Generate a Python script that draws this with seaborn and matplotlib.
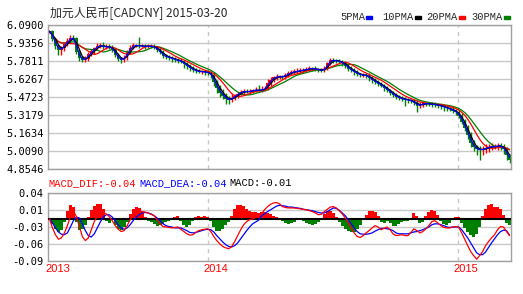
import numpy as np
import pandas as pd
import matplotlib
matplotlib.use("Agg")
import matplotlib.pyplot as plt
import matplotlib.transforms as mtransforms
import seaborn as sns

# ---------------- data ----------------
STEP = 3  # trading days represented by each reading
close = [6.035, 5.97, 5.91, 5.876, 5.89, 5.925, 5.955, 5.98, 5.975, 5.86,
         5.81, 5.79, 5.80, 5.84, 5.865, 5.89, 5.91, 5.915, 5.90, 5.905,
         5.90, 5.88, 5.835, 5.80, 5.79, 5.81, 5.86, 5.895, 5.915, 5.915,
         5.91, 5.91, 5.905, 5.91, 5.905, 5.90, 5.875, 5.855, 5.825, 5.815,
         5.81, 5.80, 5.79, 5.785, 5.775, 5.755, 5.735, 5.72, 5.704, 5.695,
         5.69, 5.69, 5.685, 5.68, 5.66, 5.60, 5.55, 5.51, 5.485, 5.455,
         5.447, 5.465, 5.48, 5.50, 5.515, 5.52, 5.518, 5.52, 5.53, 5.532,
         5.53, 5.535, 5.545, 5.59, 5.62, 5.64, 5.645, 5.647, 5.645, 5.66,
         5.676, 5.685, 5.69, 5.695, 5.70, 5.704, 5.71, 5.718, 5.715, 5.71,
         5.704, 5.70, 5.715, 5.76, 5.79, 5.785, 5.782, 5.776, 5.76, 5.74,
         5.715, 5.70, 5.685, 5.67, 5.66, 5.66, 5.655, 5.635, 5.615, 5.60,
         5.585, 5.57, 5.55, 5.532, 5.51, 5.49, 5.475, 5.462, 5.455, 5.45,
         5.445, 5.437, 5.425, 5.395, 5.405, 5.418, 5.415, 5.412, 5.41, 5.405,
         5.40, 5.393, 5.385, 5.375, 5.366, 5.356, 5.34, 5.31, 5.26, 5.204,
         5.146, 5.08, 5.04, 5.025, 5.017, 5.025, 5.035, 5.043, 5.046, 5.046,
         5.055, 5.05, 5.025, 4.975, 4.932]
# upper / lower shadow lengths, in thousandths
hi_wick = [10, 15, 12, 18, 20, 15, 20, 25, 20, 15, 15, 18, 20, 15, 18, 15, 25, 20, 30, 22,
           18, 15, 12, 18, 15, 20, 15, 20, 18, 15, 70, 15, 20, 18, 15, 20, 12, 15, 18, 20,
           15, 12, 18, 15, 20, 12, 15, 18, 20, 15, 18, 15, 12, 15, 18, 25, 20, 25, 30, 20,
           25, 30, 20, 18, 15, 20, 18, 20, 15, 25, 40, 30, 25, 35, 20, 15, 25, 18, 15, 20,
           18, 15, 20, 25, 18, 15, 20, 18, 15, 20, 15, 20, 25, 15, 20, 18, 15, 20, 15, 18,
           15, 20, 18, 15, 12, 18, 15, 20, 15, 18, 15, 12, 18, 15, 12, 15, 18, 15, 20, 15,
           15, 12, 15, 18, 25, 20, 15, 18, 15, 20, 15, 18, 20, 15, 12, 18, 15, 20, 25, 20,
           25, 30, 25, 20, 25, 30, 35, 25, 30, 20, 25, 20, 15, 18, 12]
lo_wick = [15, 20, 25, 40, 40, 20, 15, 18, 15, 20, 25, 20, 18, 15, 18, 20, 15, 18, 15, 20,
           15, 18, 20, 18, 25, 15, 18, 15, 12, 15, 15, 12, 18, 15, 15, 18, 20, 15, 20, 18,
           20, 25, 18, 20, 15, 30, 20, 25, 15, 20, 15, 18, 20, 15, 25, 30, 40, 35, 30, 40,
           35, 20, 18, 15, 12, 18, 15, 20, 15, 12, 15, 18, 15, 12, 20, 15, 18, 15, 20, 15,
           12, 18, 15, 20, 15, 18, 12, 15, 18, 15, 18, 15, 12, 15, 15, 20, 18, 15, 20, 15,
           18, 15, 20, 18, 15, 20, 18, 25, 20, 18, 20, 15, 25, 20, 18, 15, 20, 18, 15, 55,
           20, 18, 25, 50, 20, 15, 18, 15, 20, 15, 20, 25, 30, 20, 15, 18, 20, 15, 20, 25,
           30, 35, 30, 50, 85, 40, 30, 35, 25, 20, 25, 30, 40, 45, 30]
# MACD panel lines and bars, in thousandths
dif = [0, -20, -35, -45, -42, -31, -15, 5, 18, 5, -17, -39, -48, -42, -24, -6, 7, 13, 14, 11,
       5, -4, -15, -23, -28, -26, -15, -2, 9, 14, 16, 16, 15, 13, 10, 7, -2, -11, -17, -18,
       -19, -20, -19, -18, -23, -28, -33, -36, -35, -30, -26, -24, -23, -22, -28, -39, -48, -55, -61, -64,
       -66, -61, -50, -37, -24, -13, -6, -2, 0, 3, 7, 11, 20, 27, 32, 35, 36, 33, 27, 25,
       24, 24, 24, 23, 22, 21, 20, 18, 16, 13, 9, 10, 16, 21, 26, 27, 24, 18, 11, 2,
       -8, -20, -31, -39, -41, -37, -31, -26, -20, -15, -18, -24, -21, -18, -24, -33, -37, -36, -35, -37,
       -37, -30, -22, -26, -31, -28, -22, -15, -6, -4, -9, -15, -19, -20, -20, -18, -17, -19, -31, -45,
       -59, -72, -81, -89, -81, -72, -59, -50, -42, -35, -24, -17, -18, -28, -37]
dea = [0, -9, -20, -29, -34, -35, -31, -18, -4, 4, 2, -11, -26, -37, -40, -33, -20, -7, 4, 9,
       9, 4, -4, -13, -20, -23, -20, -13, -4, 4, 9, 13, 14, 13, 11, 7, 2, -4, -11, -15,
       -17, -18, -20, -20, -20, -23, -26, -30, -31, -30, -28, -26, -24, -23, -24, -29, -37, -44, -51, -57,
       -61, -62, -59, -53, -44, -35, -26, -18, -11, -7, -3, 7, 11, 16, 20, 24, 28, 30, 29, 28,
       26, 26, 25, 24, 23, 21, 20, 19, 18, 16, 14, 13, 13, 16, 20, 24, 23, 19, 13, 7,
       -2, -11, -20, -28, -33, -34, -34, -33, -31, -27, -24, -21, -21, -22, -23, -26, -31, -33, -33, -33,
       -33, -31, -29, -28, -26, -24, -21, -18, -13, -11, -11, -13, -15, -18, -19, -18, -18, -18, -24, -33,
       -42, -53, -64, -75, -79, -79, -73, -63, -53, -44, -35, -28, -25, -26, -36]
macd = [0, -11, -22, -28, -24, -7, 18, 31, 26, -7, -24, -22, -13, 4, 20, 29, 33, 33, 22, -4,
        -9, -2, -13, -22, -24, -18, -7, 11, 22, 26, 24, 15, 4, -4, -7, -11, -15, -13, -11, -7,
        -4, -2, 4, 7, -4, -13, -18, -13, -4, 4, 7, 4, 7, 4, -4, -18, -26, -26, -22, -13,
        -7, 7, 22, 31, 31, 29, 22, 18, 15, 15, 13, 15, 15, 13, 11, 7, 4, 0, -4, -9,
        -11, -9, -7, -2, -2, -4, -9, -11, -13, -11, -7, 2, 11, 18, 18, 13, 4, -7, -15, -22,
        -26, -30, -29, -22, -13, -2, 9, 18, 18, 15, 7, -7, -9, -4, -9, -15, -15, -11, -7, -4,
        -4, 2, 13, 7, -9, -7, 7, 15, 20, 18, 9, -4, -11, -13, -9, -2, 4, 4, -9, -20,
        -29, -35, -40, -33, -18, 7, 22, 31, 33, 26, 26, 22, 9, -9, -13]
year_labels = ["2013", "2014", "2015"]
year_days = [0, 159, 410]          # trading-day index where each year label sits
main_ticklabels = ["6.0900", "5.9356", "5.7811", "5.6267", "5.4723",
                   "5.3179", "5.1634", "5.0090", "4.8546"]
macd_ticklabels = ["0.04", "0.01", "-0.03", "-0.06", "-0.09"]
macd_last = {"MACD_DIF": -0.04, "MACD_DEA": -0.04, "MACD": -0.01}
ma_names = ["5PMA", "10PMA", "20PMA", "30PMA"]
ma_days = [5, 10, 20, 30]
title = "加元人民币[CADCNY] 2015-03-20"

# ---------------- derived series ----------------
df = pd.DataFrame({"close": close})
df["day"] = np.arange(len(df)) * STEP
df["open"] = df["close"].shift(1).fillna(df["close"].iloc[0])
df["top"] = np.maximum(df["open"], df["close"])
df["bot"] = np.minimum(df["open"], df["close"])
df["high"] = df["top"] + np.array(hi_wick) / 1000
df["low"] = df["bot"] - np.array(lo_wick) / 1000
for name, n in zip(ma_names, ma_days):
    w = max(1, int(round(n / STEP)))
    df[name] = df["close"].rolling(w, min_periods=1).mean()
df["dif"] = np.array(dif) / 1000
df["dea"] = np.array(dea) / 1000
df["macd"] = np.array(macd) / 1000

RED, GREEN, BLUE, BLACK = "#ff0000", "#008000", "#0000ff", "#000000"
ma_colors = [BLUE, BLACK, RED, GREEN]
FRAME = "#a0a0a0"
GRID = "#c8c8c8"

sns.set_theme(style="white")
plt.rcParams["font.family"] = ["Noto Sans CJK SC", "DejaVu Sans"]

W, H = 523, 294
fig = plt.figure(figsize=(W / 100, H / 100), dpi=100)
fig.patch.set_facecolor("white")

def px_axes(l, t, r, b):
    return fig.add_axes([l / W, 1 - b / H, (r - l) / W, (b - t) / H])

ax1 = px_axes(48, 25, 511, 169)
ax2 = px_axes(48, 193, 511, 261)

xmin, xmax = -1.5, df["day"].iloc[-1] + 1.5
for ax in (ax1, ax2):
    ax.set_facecolor("white")
    ax.set_xlim(xmin, xmax)
    for sp in ax.spines.values():
        sp.set_color(FRAME)
        sp.set_linewidth(1.0)
    ax.tick_params(length=0, pad=3)
    for d in year_days[1:]:
        ax.axvline(d, color=GRID, lw=1.0, ls=(0, (3, 3)), zorder=0)

# ---------------- main panel ----------------
lo, hi = 4.8546, 6.09
ax1.set_ylim(lo, hi)
ax1.set_yticks(np.linspace(hi, lo, len(main_ticklabels)))
ax1.set_yticklabels(main_ticklabels, family="DejaVu Sans Mono", fontsize=7.5, color="black")
ax1.yaxis.grid(True, color=GRID, lw=1.0)
ax1.set_axisbelow(True)
ax1.set_xticks([])

up = df["close"] >= df["open"]
ccol = np.where(up, RED, GREEN)
ax1.vlines(df["day"], df["low"], df["high"], colors=ccol, lw=1.0, zorder=2)
body_h = np.maximum(df["top"] - df["bot"], 0.008)
ax1.bar(df["day"], body_h, bottom=df["bot"] - (body_h - (df["top"] - df["bot"])) / 2,
        width=2.6, color=ccol, linewidth=0, zorder=2)
for name, c in zip(ma_names[::-1], ma_colors[::-1]):
    sns.lineplot(data=df, x="day", y=name, ax=ax1, color=c, lw=0.9, zorder=3, legend=False)
ax1.set_xlabel("")
ax1.set_ylabel("")

# ---------------- MACD panel ----------------
# the source panel puts its zero line 26 px below the top of a 68 px panel
mlo, mhi = -0.093, 0.057
ax2.set_ylim(mlo, mhi)
ax2.set_yticks(np.linspace(mhi, mlo, len(macd_ticklabels)))
ax2.set_yticklabels(macd_ticklabels, family="DejaVu Sans Mono", fontsize=7.5, color="black")
ax2.yaxis.grid(True, color=GRID, lw=1.0)
ax2.set_axisbelow(True)
ax2.bar(df["day"], df["macd"], width=STEP, color=np.where(df["macd"] >= 0, RED, GREEN),
        linewidth=0, zorder=2)
ax2.axhline(0, color=BLACK, lw=1.5, zorder=3)
sns.lineplot(data=df, x="day", y="dea", ax=ax2, color=BLUE, lw=0.9, zorder=4, legend=False)
sns.lineplot(data=df, x="day", y="dif", ax=ax2, color=RED, lw=0.9, zorder=5, legend=False)
ax2.set_xlabel("")
ax2.set_ylabel("")
ax2.set_xticks(year_days)
ax2.set_xticklabels(year_labels, family="Liberation Sans", fontsize=8, color=RED, ha="left")
ax2.tick_params(axis="x", pad=2)
shift = mtransforms.ScaledTranslation(-4 / 100, 0, fig.dpi_scale_trans)
for lab in ax2.get_xticklabels():
    lab.set_transform(lab.get_transform() + shift)

# ---------------- texts ----------------
fig.text(50 / W, 1 - 13 / H, title, fontsize=8.6, va="center", ha="left",
         family=["Noto Sans CJK SC", "DejaVu Sans"])
lx = [340, 382, 426, 471]
for x0, name, c in zip(lx, ma_names, ma_colors):
    fig.text(x0 / W, 1 - 17 / H, name, fontsize=7.5, family="Liberation Mono",
             va="center", ha="left")
    n = len(name)
    fig.patches.append(plt.Rectangle(((x0 + n * 6.3 + 1) / W, 1 - 19 / H), 6 / W, 3 / H,
                                     transform=fig.transFigure, color=c, figure=fig))

for (k, v), x0, c in zip(macd_last.items(), [48, 139, 229], [RED, BLUE, BLACK]):
    fig.text(x0 / W, 1 - 183 / H, f"{k}:{v:.2f}", fontsize=7.5,
             family="Liberation Mono", color=c, va="center")

fig.savefig("out.png", dpi=100, facecolor="white")
